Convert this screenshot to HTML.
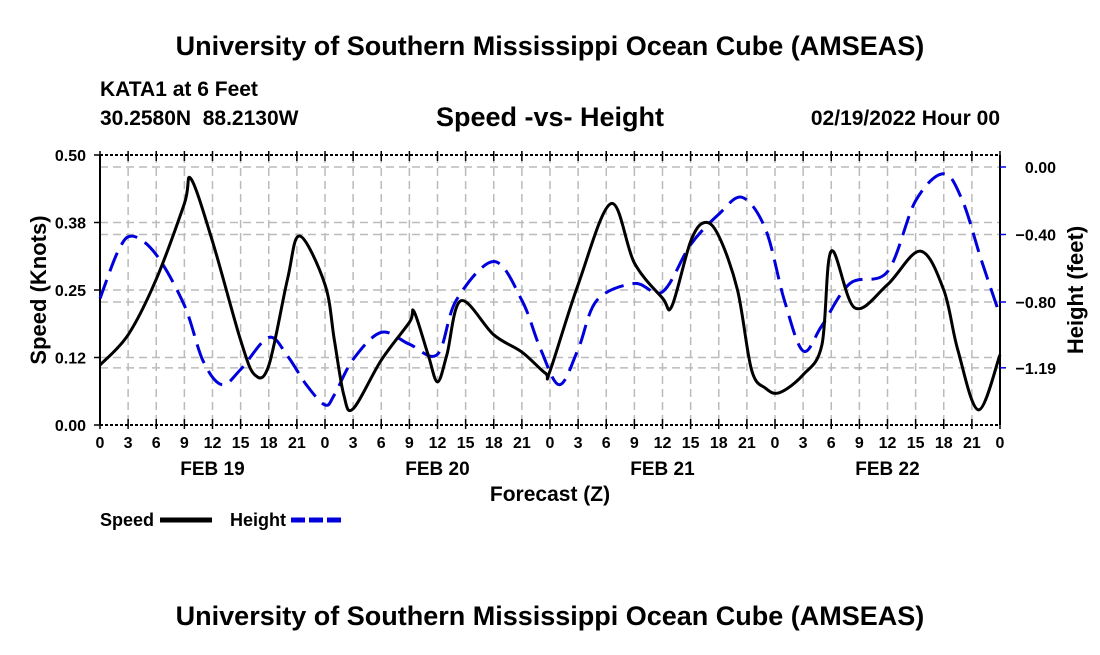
<!DOCTYPE html>
<html><head><meta charset="utf-8"><style>
body{margin:0;background:#fff;}
svg text{font-family:"Liberation Sans",sans-serif;font-weight:bold;fill:#000;}
</style></head><body>
<svg id="chart" width="1100" height="650" viewBox="0 0 1100 650" xmlns="http://www.w3.org/2000/svg">
<text x="550" y="55" font-size="27" text-anchor="middle">University of Southern Mississippi Ocean Cube (AMSEAS)</text>
<text x="100" y="96" font-size="21">KATA1 at 6 Feet</text>
<text x="100" y="125" font-size="21" xml:space="preserve">30.2580N  88.2130W</text>
<text x="550" y="126" font-size="27" text-anchor="middle">Speed -vs- Height</text>
<text x="1000" y="125" font-size="21" text-anchor="end">02/19/2022 Hour 00</text>
<text x="550" y="625" font-size="27" text-anchor="middle">University of Southern Mississippi Ocean Cube (AMSEAS)</text>
<g id="grid"></g><g id="axes"></g><g id="series"></g>
<text transform="translate(46,290) rotate(-90)" font-size="22" text-anchor="middle">Speed (Knots)</text>
<text transform="translate(1083,290) rotate(-90)" font-size="22" text-anchor="middle">Height (feet)</text>
<text x="550" y="501" font-size="21" text-anchor="middle">Forecast (Z)</text>
<g>
<text x="100" y="526" font-size="18">Speed</text>
<line x1="160" y1="520" x2="212" y2="520" stroke="#000" stroke-width="5"/>
<text x="230" y="526" font-size="18">Height</text>
<line x1="291" y1="520" x2="342" y2="520" stroke="#0000dd" stroke-width="5" stroke-dasharray="14,4"/>
</g>
</svg>
<script>
const speedHours=[0,3,6,9,9.7,12,15,16.5,18,20,21.3,24,25,26,27,30,33,33.5,35,36,37,38.5,42,45,47.5,48,51,54.5,57,60,61,63,64.5,66,68,69.5,71,72.5,75,77,78,80.5,84,87.5,90,91.5,93.7,96];
const speedVals=[0.111,0.167,0.27,0.41,0.456,0.34,0.157,0.093,0.11,0.27,0.35,0.26,0.157,0.056,0.03,0.12,0.19,0.21,0.13,0.08,0.13,0.23,0.167,0.135,0.096,0.1,0.26,0.41,0.30,0.235,0.22,0.34,0.375,0.35,0.25,0.102,0.068,0.06,0.093,0.148,0.322,0.217,0.26,0.322,0.25,0.139,0.028,0.13];
const heightHours=[0,2,3.5,6,9,11,13,15,18,20,22,24,25,27,30,33,36,38,42,45,47,49,51,53,57,60,63,66,68.5,71,73,75,77,80,84,87,90,92,94,96];
const heightVals=[-0.78,-0.49,-0.41,-0.52,-0.82,-1.15,-1.29,-1.2,-1.01,-1.12,-1.29,-1.41,-1.35,-1.14,-0.98,-1.05,-1.11,-0.79,-0.56,-0.79,-1.08,-1.29,-1.08,-0.79,-0.69,-0.74,-0.46,-0.28,-0.18,-0.37,-0.79,-1.09,-0.94,-0.69,-0.62,-0.2,-0.04,-0.2,-0.55,-0.88];
const xTickLabels=["0","3","6","9","12","15","18","21"];
const dayLabels=["FEB 19","FEB 20","FEB 21","FEB 22"];
const speedTicks=[0,0.125,0.25,0.375,0.5];
const speedTickLabels=["0.00","0.12","0.25","0.38","0.50"];
const heightTicks=[0,-0.4,-0.8,-1.19];
const heightTickLabels=["0.00","\u22120.40","\u22120.80","\u22121.19"];
const L=100,R=1000,T=155,B=425;
const xs=h=>L+h*(R-L)/96;
const ys=v=>B-v*(B-T)/0.5;
const yh=v=>167-v*168.75;
const NS="http://www.w3.org/2000/svg";
function mk(tag,attrs,parent){const e=document.createElementNS(NS,tag);for(const k in attrs)e.setAttribute(k,attrs[k]);document.getElementById(parent).appendChild(e);return e;}
for(let h=3;h<96;h+=3){const g=mk('line',{x1:xs(h),x2:xs(h),y1:T,y2:B,stroke:'#bbb','stroke-width':1.5,'stroke-dasharray':'8,5'},'grid');

}
speedTicks.forEach((v,i)=>{if(i>0&&i<4){const g=mk('line',{x1:L,x2:R,y1:ys(v),y2:ys(v),stroke:'#bbb','stroke-width':1.5,'stroke-dasharray':'8,5'},'grid');

}});
heightTicks.forEach(v=>{const g=mk('line',{x1:L,x2:R,y1:yh(v),y2:yh(v),stroke:'#bbb','stroke-width':1.5,'stroke-dasharray':'8,5'},'grid');

});
let a=mk('line',{x1:L,x2:L,y1:T,y2:B,stroke:'#000','stroke-width':2},'axes');


a=mk('line',{x1:R,x2:R,y1:T,y2:B,stroke:'#000','stroke-width':2},'axes');


a=mk('line',{x1:L,x2:R,y1:T,y2:T,stroke:'#000','stroke-width':2,'stroke-dasharray':'3,2'},'axes');


a=mk('line',{x1:L,x2:R,y1:B,y2:B,stroke:'#000','stroke-width':2,'stroke-dasharray':'3,2'},'axes');


for(let h=0;h<=96;h+=3){
 let t=mk('line',{x1:xs(h),x2:xs(h),y1:B-6,y2:B+4,stroke:'#000','stroke-width':1.5},'axes');
 
 
 t=mk('line',{x1:xs(h),x2:xs(h),y1:T-4,y2:T+6,stroke:'#000','stroke-width':1.5},'axes');
 
 
 const lb=mk('text',{x:xs(h),y:448,'font-size':16,'text-anchor':'middle'},'axes');
 lb.textContent=xTickLabels[(h/3)%8];
 
 
}
dayLabels.forEach((d,i)=>{const t=mk('text',{x:xs(i*24+12),y:475,'font-size':19,'text-anchor':'middle'},'axes');t.textContent=d;

});
speedTicks.forEach((v,i)=>{let t=mk('line',{x1:L-6,x2:L,y1:ys(v),y2:ys(v),stroke:'#000','stroke-width':1.5},'axes');


const lb=mk('text',{x:L-14,y:ys(v)+6,'font-size':16,'text-anchor':'end'},'axes');lb.textContent=speedTickLabels[i];

});
heightTicks.forEach((v,i)=>{let t=mk('line',{x1:R,x2:R+6,y1:yh(v),y2:yh(v),stroke:'#0000dd','stroke-width':1.5},'axes');


const lb=mk('text',{x:1056,y:yh(v)+6,'font-size':16,'text-anchor':'end'},'axes');lb.textContent=heightTickLabels[i];

});
function smooth(pts){let d='M'+pts[0][0]+','+pts[0][1];for(let i=0;i<pts.length-1;i++){const p0=pts[Math.max(0,i-1)],p1=pts[i],p2=pts[i+1],p3=pts[Math.min(pts.length-1,i+2)];
const c1=[p1[0]+(p2[0]-p0[0])/6,p1[1]+(p2[1]-p0[1])/6],c2=[p2[0]-(p3[0]-p1[0])/6,p2[1]-(p3[1]-p1[1])/6];d+='C'+c1+' '+c2+' '+p2;}return d;}
const hp=mk('path',{d:smooth(heightHours.map((h,i)=>[xs(h),yh(heightVals[i])])),fill:'none',stroke:'#0000dd','stroke-width':3,'stroke-dasharray':'20,9'},'series');


const sp=mk('path',{d:smooth(speedHours.map((h,i)=>[xs(h),ys(speedVals[i])])),fill:'none',stroke:'#000','stroke-width':3},'series');


</script>
</body></html>
